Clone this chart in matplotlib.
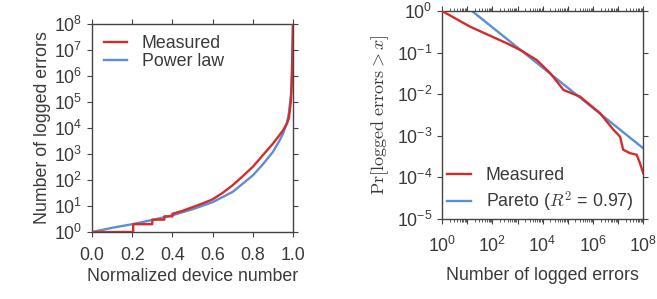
import numpy as np
import matplotlib.pyplot as plt
from matplotlib.ticker import FixedLocator, NullLocator

plt.rcParams['font.family'] = ['Liberation Sans', 'DejaVu Sans']
plt.rcParams['mathtext.fontset'] = 'custom'
plt.rcParams['mathtext.rm'] = 'Liberation Sans'
plt.rcParams['mathtext.it'] = 'Liberation Sans:italic'
plt.rcParams['font.size'] = 10

RED = '#d62b2b'
BLUE = '#5b8fd3'
SPINE = '#444444'
TEXT = '#3a3a3a'
FS = 12.8

# left panel: errors per device, sorted by normalized device number
measured_dev_x = [0.0, 0.205, 0.205, 0.30, 0.30, 0.36, 0.36, 0.40, 0.40, 0.45, 0.50, 0.55,
                  0.60, 0.65, 0.70, 0.75, 0.80, 0.85, 0.90, 0.93, 0.95, 0.97, 0.98, 0.99,
                  0.995, 1.0]
measured_dev_y = [1, 1, 2, 2, 3, 3, 4, 4, 5, 6.5, 9, 12.5,
                  18, 32, 63, 140, 320, 900, 2500, 5000, 8000, 15000, 25000, 1.2e5,
                  1e6, 1e8]
power_dev_x = [0.0, 0.05, 0.1, 0.2, 0.3, 0.4, 0.5, 0.6, 0.7, 0.8, 0.85, 0.9, 0.93,
               0.95, 0.97, 0.98, 0.99, 0.995, 1.0]
power_dev_y = [1, 1.2, 1.45, 2.0, 2.9, 4.4, 7.5, 14, 35, 150, 400, 1200, 3000,
               6000, 16000, 40000, 2e5, 2e6, 1e8]

# right panel: CCDF of logged errors
measured_err_x = [1, 13, 380, 1300, 5900, 2e4, 6.8e4, 3.1e5, 1.9e6, 6.5e6, 1.2e7,
                  1.6e7, 3e7, 5.5e7, 7.4e7, 1e8]
measured_err_y = [1, 0.42, 0.167, 0.115, 0.066, 0.032, 0.0126, 0.0087, 0.0035, 0.0014,
                  0.00095, 0.00046, 0.00038, 0.00035, 0.00022, 0.000126]
pareto_x = [15.5, 1e8]
pareto_y = [1.0, 5e-4]


def style_axes(ax):
    for s in ax.spines.values():
        s.set_color(SPINE)
        s.set_linewidth(1.0)
    ax.tick_params(which='both', direction='out', colors=SPINE, labelcolor=TEXT,
                   top=True, right=True, labelsize=FS)
    ax.tick_params(which='major', length=3.5, width=0.8)
    ax.tick_params(which='minor', length=2.5, width=0.6)


fig = plt.figure(figsize=(6.57, 2.99), dpi=100)

ax1 = fig.add_axes([0.140, 0.224, 0.306, 0.696])
ax1.plot(measured_dev_x, measured_dev_y, color=RED, lw=1.7, label='Measured', zorder=3)
ax1.plot(power_dev_x, power_dev_y, color=BLUE, lw=1.7, label='Power law', zorder=2)
ax1.set_yscale('log')
ax1.set_xlim(0, 1)
ax1.set_ylim(1, 1e8)
ax1.set_xticks([0, 0.2, 0.4, 0.6, 0.8, 1.0])
ax1.set_xticklabels(['0.0', '0.2', '0.4', '0.6', '0.8', '1.0'])
dec1 = [10.0 ** k for k in range(0, 9)]
ax1.yaxis.set_major_locator(FixedLocator(dec1))
ax1.set_yticklabels([r'$10^{%d}$' % k for k in range(0, 9)])
ax1.yaxis.set_minor_locator(NullLocator())
ax1.set_xlabel('Normalized device number', fontsize=FS, color=TEXT, labelpad=3)
ax1.set_ylabel('Number of logged errors', fontsize=FS, color=TEXT, labelpad=2)
style_axes(ax1)
ax1.tick_params(axis='x', which='major', pad=7)
leg1 = ax1.legend(loc='upper left', frameon=False, fontsize=FS, handlelength=1.3,
                  borderaxespad=0.25, labelspacing=0.05, handletextpad=0.85)
for t in leg1.get_texts():
    t.set_color(TEXT)

ax2 = fig.add_axes([0.673, 0.268, 0.306, 0.695])
ax2.plot(measured_err_x, measured_err_y, color=RED, lw=1.7, label='Measured', zorder=3)
ax2.plot(pareto_x, pareto_y, color=BLUE, lw=1.7, label='Pareto ($R^2$ = 0.97)', zorder=2)
ax2.set_xscale('log')
ax2.set_yscale('log')
ax2.set_xlim(1, 1e8)
ax2.set_ylim(1e-5, 1)
ax2.xaxis.set_major_locator(FixedLocator([10.0 ** k for k in range(0, 9)]))
ax2.set_xticklabels([r'$10^{%d}$' % k if k % 2 == 0 else '' for k in range(0, 9)])
minor_x = [m * 10.0 ** k for k in range(0, 8) for m in range(2, 10)]
ax2.xaxis.set_minor_locator(FixedLocator(minor_x))
ax2.yaxis.set_major_locator(FixedLocator([10.0 ** k for k in range(-5, 1)]))
ax2.set_yticklabels([r'$10^{%d}$' % k if k == 0 else r'$10^{\mathregular{-%d}}$' % -k
                     for k in range(-5, 1)])
ax2.yaxis.set_minor_locator(NullLocator())
ax2.set_xlabel('Number of logged errors', fontsize=FS, color=TEXT, labelpad=8)
ax2.set_ylabel(r'$\mathrm{Pr}[\mathrm{logged\ errors} > x]$', fontsize=13, color=TEXT,
               math_fontfamily='cm', labelpad=4)
style_axes(ax2)
ax2.tick_params(axis='x', which='major', pad=9)
leg2 = ax2.legend(loc='lower left', frameon=False, fontsize=FS, handlelength=1.3,
                  borderaxespad=0.1, borderpad=0.2, labelspacing=0.3, handletextpad=0.85)
for t in leg2.get_texts():
    t.set_color(TEXT)
leg2.get_texts()[1].set_math_fontfamily('cm')

fig.savefig('out.png', dpi=100)
